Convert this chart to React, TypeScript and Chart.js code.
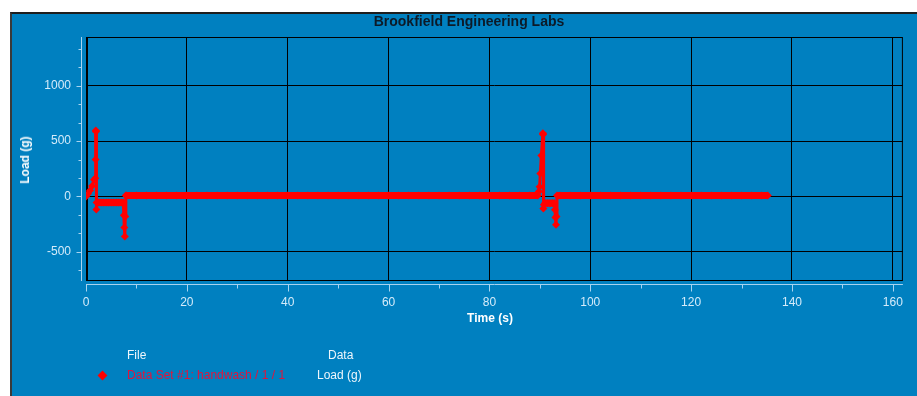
import React, { useEffect, useRef } from "react";
import { Chart, registerables } from "chart.js";

Chart.register(...registerables);

const chartTitle = "Brookfield Engineering Labs";
const xAxisTitle = "Time (s)";
const yAxisTitle = "Load (g)";
const legendHeaders = ["File", "Data"];
const seriesFile = "Data Set #1: handwash / 1 / 1";
const seriesData = "Load (g)";

const xRange = [0, 162];
const yRange = [-762, 1438];
const xMajorTicks = [0, 20, 40, 60, 80, 100, 120, 140, 160];
const xMinorTicks = [10, 30, 50, 70, 90, 110, 130, 150];
const yMajorTicks = [-500, 0, 500, 1000];
const yMinorTicks = [-666.7, -333.3, -166.7, 166.7, 333.3, 666.7, 833.3, 1166.7, 1333.3];

// [time (s), load (g)]
const firstPull: [number, number][] = [
  [0, 0], [0.4, 25], [0.8, 55], [1.2, 95], [1.6, 150], [1.85, 165], [1.9, 333],
  [1.95, 595], [2.0, 585], [2.05, -117], [2.1, -55], [2.5, -55], [3, -55], [3.5, -55],
  [4, -55], [4.5, -55], [5, -55], [5.5, -55], [6, -55], [6.5, -55], [7, -55], [7.4, -55],
  [7.5, -170], [7.6, -280], [7.7, -360], [7.8, -180], [7.9, 10],
];
const firstRest: [number, number][] = [
  [8, 10], [10, 10], [12, 10], [14, 10], [16, 10], [18, 10], [20, 10], [22, 10], [24, 10],
  [26, 10], [28, 10], [30, 10], [32, 10], [34, 10], [36, 10], [38, 10], [40, 10], [42, 10],
  [44, 10], [46, 10], [48, 10], [50, 10], [52, 10], [54, 10], [56, 10], [58, 10], [60, 10],
  [62, 10], [64, 10], [66, 10], [68, 10], [70, 10], [72, 10], [74, 10], [76, 10], [78, 10],
  [80, 10], [82, 10], [84, 10], [86, 10], [88, 10], [89.6, 10],
];
const secondPull: [number, number][] = [
  [89.8, 45], [89.95, 87], [90.1, 207], [90.3, 369], [90.6, 570], [90.65, 560], [90.7, -108],
  [90.8, -75], [91, -60], [91.5, -60], [92, -60], [92.5, -60], [92.9, -60], [93.0, -120],
  [93.1, -190], [93.2, -255], [93.3, -180], [93.4, 10],
];
const secondRest: [number, number][] = [
  [94, 10], [96, 10], [98, 10], [100, 10], [102, 10], [104, 10], [106, 10], [108, 10],
  [110, 10], [112, 10], [114, 10], [116, 10], [118, 10], [120, 10], [122, 10], [124, 10],
  [126, 10], [128, 10], [130, 10], [132, 10], [134, 10], [135.2, 10],
];

const BLUE = "#0080c0";
const AXIS = "#a8d4f0";
const TICKTEXT = "#d4ebfa";
const RED = "#ff0000";

const axesPlugin = {
  id: "offsetAxes",
  beforeDatasetsDraw(chart: any) {
    const { ctx, chartArea: a } = chart;
    ctx.save();
    ctx.strokeStyle = "#000";
    ctx.lineWidth = 1;
    ctx.strokeRect(a.left + 0.5, a.top + 0.5, a.right - a.left - 1, a.bottom - a.top - 1);
    ctx.lineWidth = 2;
    ctx.beginPath();
    ctx.moveTo(a.left + 1, a.top);
    ctx.lineTo(a.left + 1, a.bottom);
    ctx.stroke();
    ctx.restore();
  },
  afterDraw(chart: any) {
    const { ctx, chartArea: a, scales } = chart;
    const x = scales.x;
    const y = scales.y;
    ctx.save();
    ctx.strokeStyle = AXIS;
    ctx.lineWidth = 1;
    const yAxisX = a.left - 5 + 0.5;
    const xAxisY = a.bottom + 3 + 0.5;
    ctx.beginPath();
    ctx.moveTo(yAxisX, a.top);
    ctx.lineTo(yAxisX, a.bottom);
    ctx.moveTo(a.left, xAxisY);
    ctx.lineTo(a.right, xAxisY);
    for (const v of yMajorTicks) {
      const p = Math.round(y.getPixelForValue(v)) + 0.5;
      ctx.moveTo(yAxisX - 5, p);
      ctx.lineTo(yAxisX, p);
    }
    for (const v of yMinorTicks) {
      const p = Math.round(y.getPixelForValue(v)) + 0.5;
      ctx.moveTo(yAxisX - 3, p);
      ctx.lineTo(yAxisX, p);
    }
    for (const v of xMajorTicks) {
      const p = Math.round(x.getPixelForValue(v)) + 0.5;
      ctx.moveTo(p, xAxisY);
      ctx.lineTo(p, xAxisY + 7);
    }
    for (const v of xMinorTicks) {
      const p = Math.round(x.getPixelForValue(v)) + 0.5;
      ctx.moveTo(p, xAxisY);
      ctx.lineTo(p, xAxisY + 4);
    }
    ctx.stroke();
    ctx.restore();
  },
};

export default function App() {
  const canvasRef = useRef<HTMLCanvasElement | null>(null);

  useEffect(() => {
    if (!canvasRef.current) return;
    const points = [...firstPull, ...firstRest, ...secondPull, ...secondRest].map(([t, l]) => ({ x: t, y: l }));
    const tickFont = { family: "'Liberation Sans', Arial, sans-serif", size: 12 };
    const chart = new Chart(canvasRef.current, {
      type: "line",
      data: {
        datasets: [
          {
            label: seriesFile,
            data: points,
            borderColor: RED,
            backgroundColor: RED,
            borderWidth: 3,
            pointStyle: "rectRot",
            pointRadius: 4,
            pointBorderWidth: 0,
            pointBackgroundColor: RED,
            tension: 0,
            segment: {
              borderWidth: (c: any) => (Math.abs(c.p0.parsed.y - c.p1.parsed.y) < 15 ? 7 : 3),
            },
          },
        ],
      },
      options: {
        animation: false,
        responsive: false,
        events: [],
        layout: { padding: { top: 23, right: 14, left: 0, bottom: 0 } },
        plugins: { legend: { display: false }, tooltip: { enabled: false }, title: { display: false } },
        scales: {
          x: {
            type: "linear",
            min: xRange[0],
            max: xRange[1],
            afterBuildTicks: (s: any) => {
              s.ticks = xMajorTicks.map((v) => ({ value: v }));
            },
            afterFit: (s: any) => {
              s.height = 115;
            },
            grid: { color: "#000", lineWidth: 1, drawTicks: false },
            border: { display: false },
            ticks: { color: TICKTEXT, font: tickFont, padding: 14, autoSkip: false, maxRotation: 0, callback: (v: any) => String(v) },
          },
          y: {
            type: "linear",
            min: yRange[0],
            max: yRange[1],
            afterBuildTicks: (s: any) => {
              s.ticks = yMajorTicks.map((v) => ({ value: v }));
            },
            afterFit: (s: any) => {
              s.width = 74;
            },
            grid: { color: "#000", lineWidth: 1, drawTicks: false },
            border: { display: false },
            ticks: { color: TICKTEXT, font: tickFont, padding: 15, callback: (v: any) => String(v) },
          },
        },
      },
      plugins: [axesPlugin],
    });
    return () => chart.destroy();
  }, []);

  const textBase: React.CSSProperties = {
    position: "absolute",
    fontFamily: "'Liberation Sans', Arial, sans-serif",
    whiteSpace: "nowrap",
    lineHeight: "14px",
  };

  return (
    <div
      style={{
        position: "absolute",
        left: 10,
        top: 12,
        width: 907,
        height: 384,
        boxSizing: "border-box",
        background: BLUE,
        borderTop: "2px solid #1e1e1e",
        borderLeft: "2px solid #3a3a3a",
        overflow: "hidden",
      }}
    >
      <canvas ref={canvasRef} width={905} height={382} style={{ position: "absolute", left: 0, top: 0, width: 905, height: 382 }} />
      <div style={{ ...textBase, left: 457, top: 7, transform: "translate(-50%, -50%)", fontSize: 14, fontWeight: "bold", color: "#0c1a28" }}>
        {chartTitle}
      </div>
      <div style={{ ...textBase, left: 13, top: 146, transform: "translate(-50%, -50%) rotate(-90deg)", fontSize: 12, fontWeight: "bold", color: "#ffffff" }}>
        {yAxisTitle}
      </div>
      <div style={{ ...textBase, left: 478, top: 304, transform: "translate(-50%, -50%)", fontSize: 12, fontWeight: "bold", color: "#ffffff" }}>
        {xAxisTitle}
      </div>
      <div style={{ ...textBase, left: 115, top: 334, fontSize: 12, color: "#eef6fc" }}>{legendHeaders[0]}</div>
      <div style={{ ...textBase, left: 316, top: 334, fontSize: 12, color: "#eef6fc" }}>{legendHeaders[1]}</div>
      <div style={{ position: "absolute", left: 86.5, top: 357.5, width: 7, height: 7, background: RED, transform: "rotate(45deg)" }} />
      <div style={{ ...textBase, left: 115, top: 354, fontSize: 12, color: "#e0143c" }}>{seriesFile}</div>
      <div style={{ ...textBase, left: 305, top: 354, fontSize: 12, color: "#eef6fc" }}>{seriesData}</div>
    </div>
  );
}
